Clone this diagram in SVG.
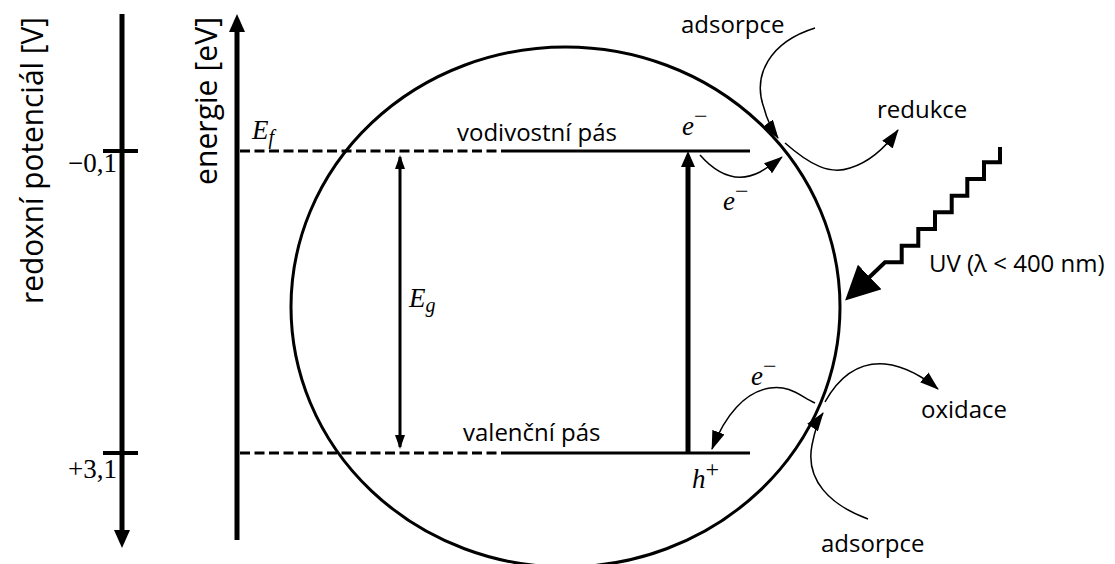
<svg xmlns="http://www.w3.org/2000/svg" width="1115" height="564" viewBox="0 0 1115 564">
<style>
.lbl{font-family:"Open Sans","Liberation Sans",sans-serif;font-size:24px;fill:#000}
.axl{font-family:"Open Sans","Liberation Sans",sans-serif;font-size:31px;fill:#000}
.math{font-family:"Liberation Serif","DejaVu Serif",serif;font-size:27px;fill:#000}
.it{font-style:italic}
.sup{font-style:normal;font-size:24px}
.sub{font-size:20px}
.thin{fill:none;stroke:#000;stroke-width:1.5}
.band{fill:none;stroke:#000;stroke-width:3}
.dash{fill:none;stroke:#000;stroke-width:3;stroke-dasharray:10 4.5}
.axis{fill:none;stroke:#000;stroke-width:5}
</style>
<defs>
<marker id="ahAxis" markerUnits="userSpaceOnUse" markerWidth="18" markerHeight="16" viewBox="0 0 18 16" refX="8" refY="8" orient="auto"><path d="M0,0 L18,8 L0,16 z" fill="#000"/></marker>
<marker id="ahThick" markerUnits="userSpaceOnUse" markerWidth="16" markerHeight="14" viewBox="0 0 16 14" refX="6" refY="7" orient="auto"><path d="M0,0 L16,7 L0,14 z" fill="#000"/></marker>
<marker id="ahEg" markerUnits="userSpaceOnUse" markerWidth="14" markerHeight="10" viewBox="0 0 14 10" refX="12" refY="5" orient="auto-start-reverse"><path d="M0,0 L14,5 L0,10 z" fill="#000"/></marker>
<marker id="ahThin" markerUnits="userSpaceOnUse" markerWidth="19" markerHeight="13" viewBox="0 0 19 13" refX="18" refY="6.5" orient="auto"><path d="M0,0 L19,6.5 L0,13 z" fill="#000"/></marker>
<marker id="ahUV" markerUnits="userSpaceOnUse" markerWidth="34" markerHeight="34" viewBox="0 0 34 34" refX="20" refY="17" orient="auto"><path d="M0,0 L34,17 L0,34 z" fill="#000"/></marker>
</defs>

<g id="redox-axis">
<line class="axis" x1="122" y1="14" x2="122" y2="538" marker-end="url(#ahAxis)"/>
<line x1="103" y1="151" x2="138" y2="151" stroke="#000" stroke-width="4"/>
<line x1="103" y1="453" x2="138" y2="453" stroke="#000" stroke-width="4"/>
<text class="axl" transform="translate(43,304) rotate(-90)" textLength="287" lengthAdjust="spacingAndGlyphs">redoxní potenciál [V]</text>
<text class="math" x="117" y="172" text-anchor="end">−0,1</text>
<text class="math" x="117" y="478" text-anchor="end">+3,1</text>
</g>

<g id="energy-axis">
<line class="axis" x1="237" y1="540" x2="237" y2="24" marker-end="url(#ahAxis)"/>
<text class="axl" transform="translate(217,185) rotate(-90)" textLength="168" lengthAdjust="spacingAndGlyphs">energie [eV]</text>
<text class="math it" x="252" y="139">E<tspan class="sub" dy="5">f</tspan></text>
</g>

<g id="particle">
<ellipse cx="565.5" cy="307" rx="274.5" ry="260" fill="none" stroke="#000" stroke-width="3"/>
</g>

<g id="conduction-band">
<line class="dash" x1="240" y1="151" x2="507" y2="151"/>
<line class="band" x1="507" y1="151" x2="750" y2="151"/>
<text class="lbl" x="457" y="141">vodivostní pás</text>
<text class="math it" x="682" y="135">e<tspan class="sup" dy="-11">−</tspan></text>
</g>

<g id="valence-band">
<line class="dash" x1="240" y1="453" x2="507" y2="453"/>
<line class="band" x1="507" y1="453" x2="750" y2="453"/>
<text class="lbl" x="463" y="441">valenční pás</text>
<text class="math it" x="692" y="488">h<tspan class="sup" dy="-11">+</tspan></text>
</g>

<g id="band-gap">
<text class="math it" x="409" y="307">E<tspan class="sub" dy="5">g</tspan></text>
</g>

<g id="labels">
<text class="lbl" x="681" y="33">adsorpce</text>
<text class="lbl" x="877" y="118">redukce</text>
<text class="lbl" x="929" y="272">UV (λ &lt; 400 nm)</text>
<text class="lbl" x="921" y="418">oxidace</text>
<text class="lbl" x="821" y="552">adsorpce</text>
<text class="math it" x="723" y="210">e<tspan class="sup" dy="-11">−</tspan></text>
<text class="math it" x="751" y="385">e<tspan class="sup" dy="-11">−</tspan></text>
</g>

<g id="connectors">
<line x1="400" y1="157" x2="400" y2="447" stroke="#000" stroke-width="3" marker-start="url(#ahEg)" marker-end="url(#ahEg)"/>
<line x1="688" y1="453" x2="688" y2="161" stroke="#000" stroke-width="5" marker-end="url(#ahThick)"/>
<path class="thin" d="M815,28 C770,42 752,75 764,108 Q768,124 778,138" marker-end="url(#ahThin)"/>
<path class="thin" d="M785,143 C810,165 830,175 850,168 C870,162 885,148 898,130" marker-end="url(#ahThin)"/>
<path class="thin" d="M700,155 C715,172 735,185 760,172 Q772,165 782,157" marker-end="url(#ahThin)"/>
<path class="thin" d="M815,403 C800,396 790,385 770,388 C745,392 725,415 712,449" marker-end="url(#ahThin)"/>
<path class="thin" d="M825,402 C840,375 860,362 885,364 C905,366 925,378 938,389" marker-end="url(#ahThin)"/>
<path class="thin" d="M868,519 C830,505 805,480 812,445 C815,430 818,420 823,413" marker-end="url(#ahThin)"/>
<path d="M1000,147 V162.3 H984 V179 H967.3 V195.7 H951.7 V212.3 H935 V229 H918.3 V245.7 H901.7 V262.3 H885 L855.2,290.8" fill="none" stroke="#000" stroke-width="4" marker-end="url(#ahUV)"/>
</g>
</svg>
